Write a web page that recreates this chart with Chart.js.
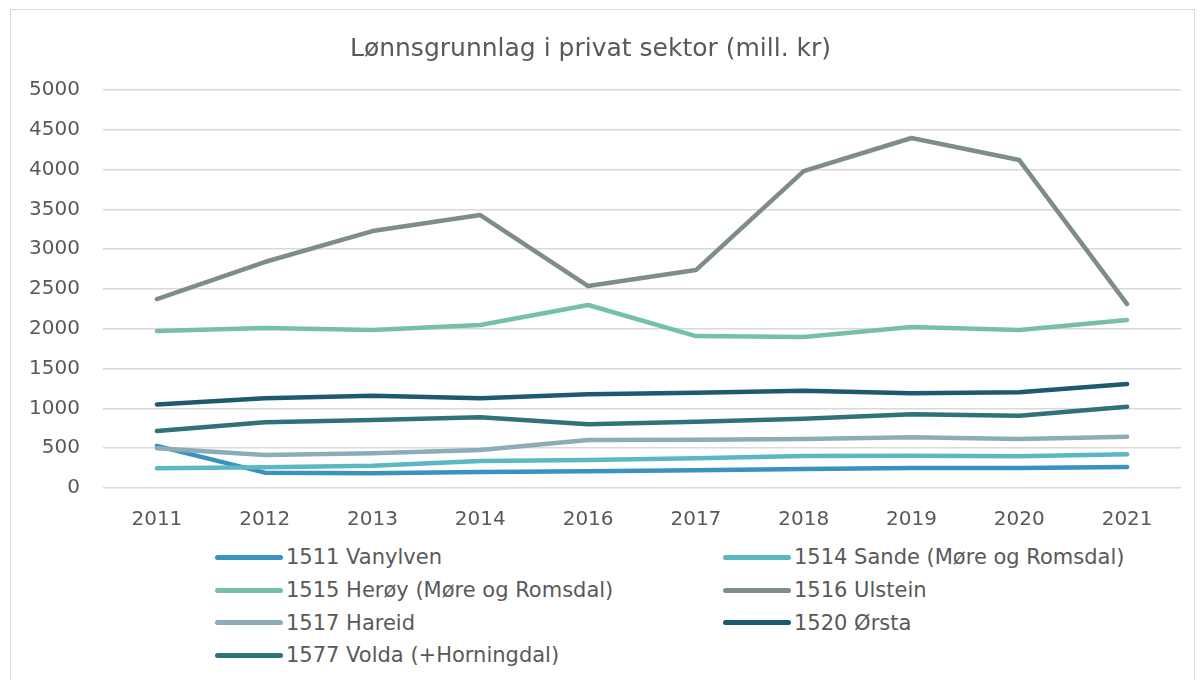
<!DOCTYPE html>
<html>
<head>
<meta charset="utf-8">
<script src="https://cdn.jsdelivr.net/npm/chart.js@4/dist/chart.umd.min.js"></script>
<style>
  html, body { margin: 0; padding: 0; background: #fff; }
  body { width: 1202px; height: 680px; position: relative; overflow: hidden; font-family: 'DejaVu Sans', sans-serif; }
  .frame { position: absolute; left: 10px; top: 9px; width: 1185px; height: 700px; border: 1px solid #d9d9d9; box-sizing: border-box; }
  #wrap { position: absolute; left: 0; top: 0; width: 1202px; height: 538px; }
  #legend { position: absolute; left: 215px; top: 541px; width: 980px; display: grid; grid-template-columns: 508px 470px; grid-auto-rows: 32.7px; }
  .item { display: flex; align-items: center; font-size: 21px; color: #595959; white-space: nowrap; }
  .swatch { width: 68px; height: 5px; border-radius: 3px; margin-right: 3px; flex: none; }
</style>
</head>
<body>
<div class="frame"></div>
<div id="wrap"><canvas id="chart"></canvas></div>
<div id="legend"></div>
<script>
// Lønnsgrunnlag i privat sektor (mill. kr)
const years = ['2011', '2012', '2013', '2014', '2016', '2017', '2018', '2019', '2020', '2021'];

const vanylven = [530, 193, 184, 201, 209, 222, 239, 251, 251, 264];
const sande    = [247, 260, 280, 339, 352, 373, 402, 406, 398, 423];
const heroy    = [1972, 2010, 1985, 2047, 2299, 1909, 1897, 2022, 1985, 2110];
const ulstein  = [2374, 2839, 3228, 3429, 2537, 2738, 3982, 4397, 4120, 2311];
const hareid   = [498, 414, 435, 477, 603, 607, 615, 636, 615, 645];
const orsta    = [1050, 1126, 1160, 1126, 1177, 1197, 1222, 1189, 1202, 1306];
const volda    = [716, 825, 854, 888, 800, 833, 871, 926, 909, 1021];

const seriesNames = ['1511 Vanylven', '1514 Sande (Møre og Romsdal)', '1515 Herøy (Møre og Romsdal)',
  '1516 Ulstein', '1517 Hareid', '1520 Ørsta', '1577 Volda (+Horningdal)'];
const seriesData = [vanylven, sande, heroy, ulstein, hareid, orsta, volda];
const seriesColors = ['#3a93be', '#5bb8c2', '#76c1a5', '#7f8c8c', '#8aadb8', '#1e5a6f', '#2e7378'];

const FONT = "'DejaVu Sans', sans-serif";
const TEXT = '#595959';

const datasets = seriesNames.map((name, i) => ({
  label: name,
  data: seriesData[i],
  borderColor: seriesColors[i],
  backgroundColor: seriesColors[i],
  borderWidth: 4.5,
  pointRadius: 0,
  tension: 0,
  borderCapStyle: 'round',
  borderJoinStyle: 'round',
  // later series on top, like the original
  order: seriesNames.length - i
}));

new Chart(document.getElementById('chart'), {
  type: 'line',
  data: { labels: years, datasets },
  options: {
    responsive: true, maintainAspectRatio: false, animation: false,
    layout: { padding: { top: 34, right: 21, left: 0, bottom: 0 } },
    plugins: {
      legend: { display: false },
      tooltip: { enabled: false },
      title: {
        display: true,
        text: 'Lønnsgrunnlag i privat sektor (mill. kr)',
        color: TEXT,
        font: { family: FONT, size: 25, weight: 'normal', lineHeight: 1.2 },
        padding: { top: 0, bottom: 26 }
      }
    },
    scales: {
      x: {
        offset: true,
        grid: { display: false, drawTicks: false },
        border: { display: false },
        ticks: { color: TEXT, font: { family: FONT, size: 20 }, padding: 20, maxRotation: 0 },
        afterFit: s => { s.height = 50; }
      },
      y: {
        min: 0, max: 5000,
        grid: { color: '#d9d9d9', lineWidth: 1.5, drawTicks: false },
        border: { display: false },
        ticks: { stepSize: 500, color: TEXT, font: { family: FONT, size: 20 }, padding: 23,
          callback: v => String(v) },
        afterFit: s => { s.width = 103; }
      }
    }
  }
});

const legendEl = document.getElementById('legend');
seriesNames.forEach((name, i) => {
  const item = document.createElement('div');
  item.className = 'item';
  const sw = document.createElement('span');
  sw.className = 'swatch';
  sw.style.background = seriesColors[i];
  item.appendChild(sw);
  item.appendChild(document.createTextNode(name));
  legendEl.appendChild(item);
});
</script>
</body>
</html>
